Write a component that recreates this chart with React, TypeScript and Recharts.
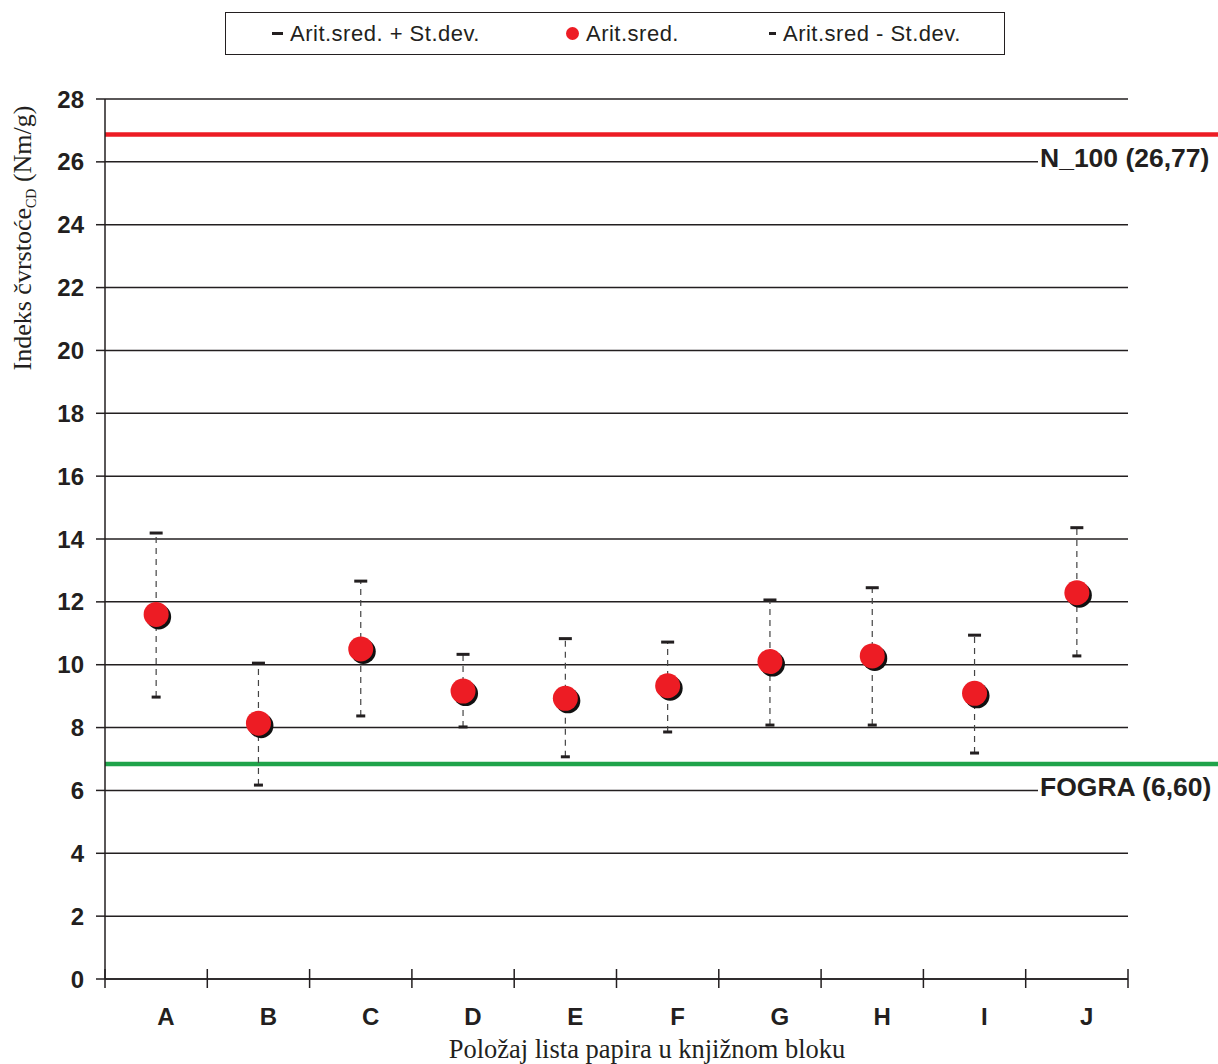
import React from 'react'
import {
  ComposedChart, Scatter, XAxis, YAxis, CartesianGrid, ReferenceLine, ErrorBar, Legend,
} from 'recharts'

const CATEGORIES = ['A', 'B', 'C', 'D', 'E', 'F', 'G', 'H', 'I', 'J']
const MEAN  = [11.6, 8.14, 10.5, 9.16, 8.93, 9.33, 10.1, 10.28, 9.09, 12.29]
const UPPER = [14.19, 10.05, 12.66, 10.33, 10.83, 10.72, 12.06, 12.45, 10.94, 14.36]
const LOWER = [8.97, 6.17, 8.37, 8.02, 7.07, 7.86, 8.08, 8.08, 7.19, 10.28]
const Y_TICKS = [0, 2, 4, 6, 8, 10, 12, 14, 16, 18, 20, 22, 24, 26, 28]
const X_BOUNDS = [0, 1, 2, 3, 4, 5, 6, 7, 8, 9, 10]

const N100 = 26.87
const FOGRA = 6.84

const LEGEND = [
  { label: 'Arit.sred. + St.dev.', kind: 'cap' },
  { label: 'Arit.sred.', kind: 'dot' },
  { label: 'Arit.sred - St.dev.', kind: 'capSmall' },
]

const INK = '#231f20'
const RED = '#ed1c24'
const GREEN = '#1fa34a'
const SANS = '"Liberation Sans", Arial, sans-serif'
const SERIF = '"Liberation Serif", "Times New Roman", serif'

const rows = CATEGORIES.map((c, i) => ({
  cat: c,
  x: i + 0.5,
  mean: MEAN[i],
  upper: UPPER[i],
  lower: LOWER[i],
  err: [MEAN[i] - LOWER[i], UPPER[i] - MEAN[i]],
}))

function MeanDot({ cx, cy }: any) {
  if (cx == null || cy == null) return null
  return (
    <g>
      <circle cx={cx + 2.5} cy={cy + 2.5} r={12.5} fill="#111" />
      <circle cx={cx} cy={cy} r={12.5} fill={RED} />
    </g>
  )
}

function UpperCap({ cx, cy }: any) {
  if (cx == null || cy == null) return null
  return <rect x={cx - 6.5} y={cy - 1.5} width={13} height={3} fill={INK} />
}

function LowerCap({ cx, cy }: any) {
  if (cx == null || cy == null) return null
  return <rect x={cx - 4.5} y={cy - 1.5} width={9} height={3} fill={INK} />
}

function XTick({ x, y, payload }: any) {
  const label = CATEGORIES[payload.value]
  return (
    <g>
      <line x1={x} x2={x} y1={y - 10} y2={y + 9} stroke={INK} strokeWidth={1.5} />
      {label && (
        <text x={x + 51 + 10} y={y + 46} textAnchor="middle" fontFamily={SANS}
          fontWeight="bold" fontSize={24} fill={INK}>
          {label}
        </text>
      )}
    </g>
  )
}

function refShape(color: string, label: string) {
  return (p: any) => {
    const { x1, x2, y1 } = p
    return (
      <g>
        <rect x={x2 - 90} y={y1 + 22} width={90} height={12} fill="#fff" />
        <line x1={x1} x2={x2 + 90} y1={y1} y2={y1} stroke={color} strokeWidth={4.5} />
        <text x={x2 - 88} y={y1 + 32} fontFamily={SANS} fontWeight="bold" fontSize={26.5} fill={INK}>
          {label}
        </text>
      </g>
    )
  }
}

function LegendBox() {
  return (
    <div style={{
      width: 778, height: 41, border: `1.5px solid ${INK}`, background: '#fff',
      display: 'flex', alignItems: 'center', fontFamily: SANS, fontSize: 22, color: INK,
      letterSpacing: 0.5, boxSizing: 'content-box',
    }}>
      {LEGEND.map((item, i) => (
        <div key={item.label} style={{
          display: 'flex', alignItems: 'center',
          marginLeft: i === 0 ? 46 : i === 1 ? 86 : 90,
        }}>
          {item.kind === 'dot' ? (
            <span style={{ width: 13, height: 13, borderRadius: '50%', background: RED, marginRight: 7 }} />
          ) : (
            <span style={{
              width: item.kind === 'cap' ? 11 : 7, height: 3, background: INK, marginRight: 7,
            }} />
          )}
          <span>{item.label}</span>
        </div>
      ))}
    </div>
  )
}

export default function App() {
  return (
    <div style={{ position: 'absolute', left: 0, top: 0, width: 1218, height: 1064, background: '#fff' }}>
      <ComposedChart
        width={1218}
        height={1064}
        data={rows}
        margin={{ top: 99, right: 90, bottom: 45, left: 45 }}
      >
        <CartesianGrid horizontal vertical={false} stroke={INK} strokeWidth={1.5} />
        <XAxis
          dataKey="x"
          type="number"
          domain={[0, 10]}
          ticks={X_BOUNDS}
          interval={0}
          height={40}
          axisLine={{ stroke: INK, strokeWidth: 1.5 }}
          tickLine={false}
          tickSize={0}
          tickMargin={0}
          tick={<XTick />}
          label={{
            content: () => (
              <text x={647} y={1058} textAnchor="middle" fontFamily={SERIF} fontSize={26.5} fill={INK}>
                Položaj lista papira u knjižnom bloku
              </text>
            ),
          }}
        />
        <YAxis
          type="number"
          domain={[0, 28]}
          ticks={Y_TICKS}
          interval={0}
          width={60}
          axisLine={{ stroke: INK, strokeWidth: 1.5 }}
          tickLine={{ stroke: INK, strokeWidth: 1.5 }}
          tickSize={9}
          tickMargin={12}
          tick={{ fontFamily: SANS, fontWeight: 'bold', fontSize: 24, fill: INK }}
          label={{
            content: () => (
              <text transform="translate(31, 238) rotate(-90)" textAnchor="middle"
                fontFamily={SERIF} fontSize={26} fill={INK}>
                Indeks čvrstoće
                <tspan fontSize={14} dy={5}>CD</tspan>
                <tspan dy={-5}> (Nm/g)</tspan>
              </text>
            ),
          }}
        />
        <ReferenceLine y={N100} ifOverflow="extendDomain" shape={refShape(RED, 'N_100 (26,77)')} />
        <ReferenceLine y={FOGRA} ifOverflow="extendDomain" shape={refShape(GREEN, 'FOGRA (6,60)')} />

        <Scatter dataKey="mean" shape={() => null} isAnimationActive={false} legendType="none">
          <ErrorBar dataKey="err" direction="y" width={0} stroke="#444" strokeWidth={1.2}
            strokeDasharray="6 5" isAnimationActive={false} />
        </Scatter>
        <Scatter dataKey="upper" shape={<UpperCap />} isAnimationActive={false} />
        <Scatter dataKey="lower" shape={<LowerCap />} isAnimationActive={false} />
        <Scatter dataKey="mean" shape={<MeanDot />} isAnimationActive={false} />

        <Legend
          layout="horizontal"
          verticalAlign="middle"
          align="center"
          wrapperStyle={{ top: 12, left: 225, width: 781, height: 44 }}
          content={() => <LegendBox />}
        />
      </ComposedChart>
    </div>
  )
}
